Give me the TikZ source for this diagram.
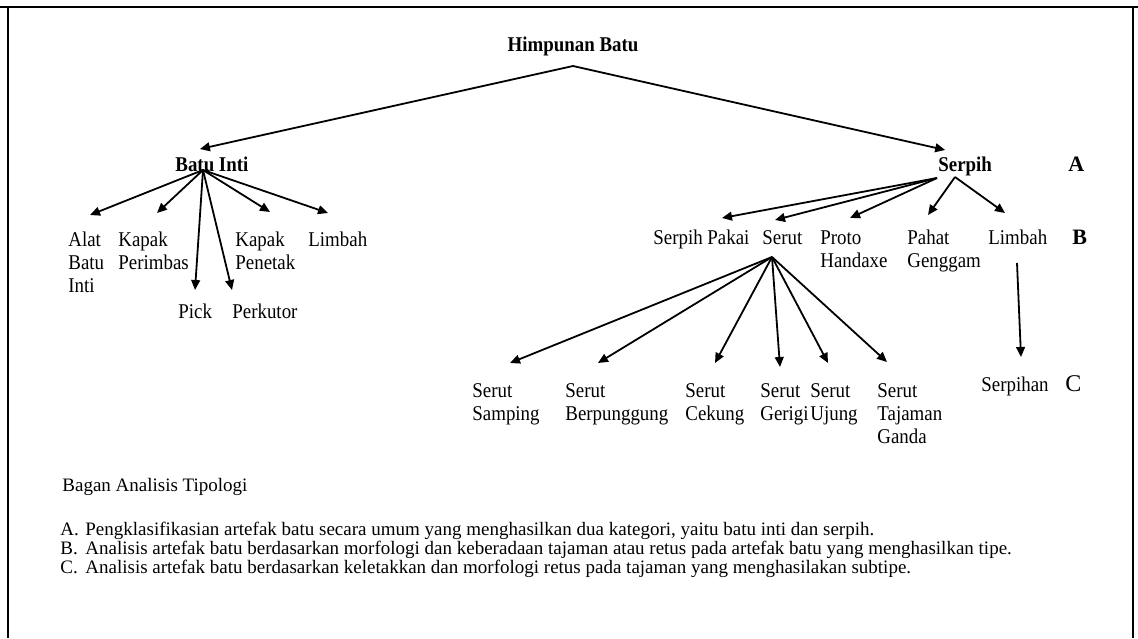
\documentclass[tikz,border=0pt]{standalone}
\usepackage{fontspec}
\setmainfont{Liberation Serif}
\newfontfamily\leaffont{Liberation Serif}[FakeStretch=0.9]
\usepackage{tikz}
\usetikzlibrary{arrows.meta,calc}

\begin{document}
\begin{tikzpicture}[
  x=0.5pt,y=-0.5pt,
  >={Triangle[length=5pt,width=4.4pt]},
  leaf/.style={anchor=north west,inner sep=0pt,align=left,
    font=\leaffont\fontsize{10.5}{11.5}\selectfont},
  toplabel/.style={leaf,font=\leaffont\bfseries\fontsize{10.5}{11.5}\selectfont},
  rowmark/.style={anchor=north west,inner sep=0pt,font=\bfseries\fontsize{11}{12}\selectfont},
  note/.style={anchor=base west,inner sep=0pt,font=\fontsize{9.5}{10}\selectfont},
  arrow/.style={->,line width=0.9pt},
  pageframe/.style={line width=1pt}
]
  \useasboundingbox (0,0) rectangle (1138,638);
  \fill[white] (0,0) rectangle (1138,638);
  \draw[pageframe] (0,7) -- (1138,7);
  \draw[pageframe] (8,7) -- (8,638);
  \draw[pageframe] (1133,7) -- (1133,638);

  % root
  \node[toplabel,anchor=north] (himpunan) at (573,37) {Himpunan Batu};
  \coordinate (apex) at (573,66);
  \node[toplabel] (batuinti) at (175,157) {Batu Inti};
  \node[toplabel] (serpih) at (938,157) {Serpih};
  \node[rowmark] (markA) at (1068,157) {A};
  \draw[arrow] (apex) -- ($(batuinti.north)+(-12,-8)$);
  \draw[arrow] (apex) -- ($(serpih.north)+(-20,-7)$);

  % batu inti types
  \coordinate (intihub) at (203,170);
  \node[leaf] (alat) at (68,232) {Alat\\Batu\\Inti};
  \node[leaf] (perimbas) at (118,232) {Kapak\\Perimbas};
  \node[leaf] (pick) at (178,304) {Pick};
  \node[leaf] (perkutor) at (232,304) {Perkutor};
  \node[leaf] (penetak) at (235,232) {Kapak\\Penetak};
  \node[leaf] (limbahinti) at (308,232) {Limbah};
  \draw[arrow] (intihub) -- ($(alat.north west)+(22,-17)$);
  \draw[arrow] (intihub) -- ($(perimbas.north west)+(39,-19)$);
  \draw[arrow] (intihub) -- ($(pick.north west)+(17,-14)$);
  \draw[arrow] (intihub) -- ($(perkutor.north west)+(0,-14)$);
  \draw[arrow] (intihub) -- ($(penetak.north west)+(35,-20)$);
  \draw[arrow] (intihub) -- ($(limbahinti.north west)+(20,-19)$);

  % serpih types
  \coordinate (serpihhub) at (937,178);
  \coordinate (serpihhubr) at (955,177);
  \node[leaf] (serpihpakai) at (653,230) {Serpih Pakai};
  \node[leaf] (serut) at (762,230) {Serut};
  \node[leaf] (proto) at (820,230) {Proto\\Handaxe};
  \node[leaf] (pahat) at (907,230) {Pahat\\Genggam};
  \node[leaf] (limbahserpih) at (988,230) {Limbah};
  \node[rowmark] (markB) at (1072,230) {B};
  \draw[arrow] (serpihhub) -- ($(serpihpakai.north west)+(69,-12)$);
  \draw[arrow] (serpihhub) -- ($(serut.north west)+(13,-10)$);
  \draw[arrow] (serpihhub) -- ($(proto.north west)+(30,-12)$);
  \draw[arrow] (serpihhubr) -- ($(pahat.north west)+(21,-15)$);
  \draw[arrow] (serpihhubr) -- ($(limbahserpih.north west)+(17,-17)$);

  % serut subtypes
  \coordinate (seruthub) at (772,257);
  \node[leaf] (samping) at (472,383) {Serut\\Samping};
  \node[leaf] (berpunggung) at (565,383) {Serut\\Berpunggung};
  \node[leaf] (cekung) at (685,383) {Serut\\Cekung};
  \node[leaf] (gerigi) at (760,383) {Serut\\Gerigi};
  \node[leaf] (ujung) at (810,383) {Serut\\Ujung};
  \node[leaf] (tajaman) at (877,383) {Serut\\Tajaman\\Ganda};
  \node[leaf] (serpihan) at (981,377) {Serpihan};
  \node[rowmark,font=\fontsize{12}{13}\selectfont] (markC) at (1065,375) {C};
  \draw[arrow] (seruthub) -- ($(samping.north west)+(38,-20)$);
  \draw[arrow] (seruthub) -- ($(berpunggung.north west)+(33,-20)$);
  \draw[arrow] (seruthub) -- ($(cekung.north west)+(30,-20)$);
  \draw[arrow] (seruthub) -- ($(gerigi.north west)+(20,-16)$);
  \draw[arrow] (seruthub) -- ($(ujung.north west)+(18,-20)$);
  \draw[arrow] (seruthub) -- ($(tajaman.north west)+(10,-21)$);
  \draw[arrow] ($(limbahserpih.north west)+(29,33)$) -- ($(serpihan.north west)+(40,-20)$);

  % keterangan
  \node[note] (bagan) at (62,491) {Bagan Analisis Tipologi};
  \node[note] (keyA) at (60,535) {A.};
  \node[note] (textA) at (85,535) {Pengklasifikasian artefak batu secara umum yang menghasilkan dua kategori, yaitu batu inti dan serpih.};
  \node[note] (keyB) at (60,554) {B.};
  \node[note] (textB) at (85,554) {Analisis artefak batu berdasarkan morfologi dan keberadaan tajaman atau retus pada artefak batu yang menghasilkan tipe.};
  \node[note] (keyC) at (60,573) {C.};
  \node[note] (textC) at (85,573) {Analisis artefak batu berdasarkan keletakkan dan morfologi retus pada tajaman yang menghasilakan subtipe.};
\end{tikzpicture}
\end{document}
